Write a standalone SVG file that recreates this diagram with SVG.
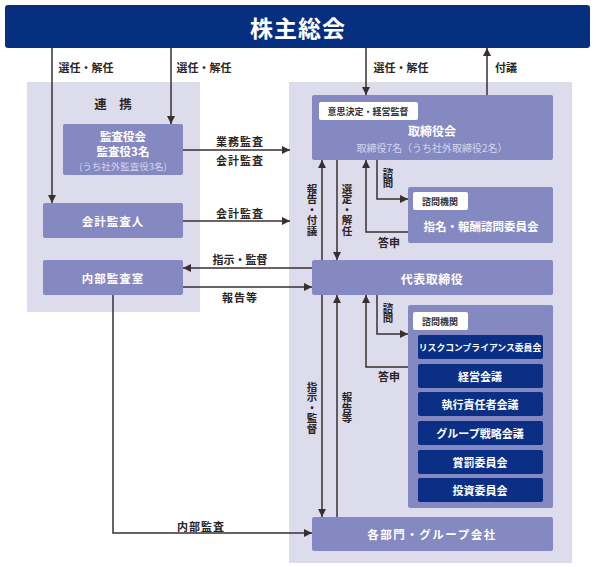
<svg xmlns="http://www.w3.org/2000/svg" width="596" height="567" viewBox="0 0 596 567">
<defs>
<marker id="ah" markerUnits="userSpaceOnUse" markerWidth="8" markerHeight="8" viewBox="0 0 8 8" refX="8" refY="4" orient="auto">
<path d="M0,0 L8,4 L0,8 Z" fill="#3a2f2f"/>
</marker>
<style>
text{font-family:"Noto Sans CJK JP","Noto Sans",sans-serif;}
.panel{fill:#dcdcec;}
.box{fill:#8589c1;}
.dark{fill:#0b2f84;}
.tag{fill:#ffffff;}
.bt{fill:#ffffff;font-size:11.5px;font-weight:bold;text-anchor:middle;dominant-baseline:central;}
.sub{fill:#d4d6ee;font-size:9.5px;text-anchor:middle;dominant-baseline:central;}
.tt{fill:#333333;font-size:9px;font-weight:bold;text-anchor:middle;dominant-baseline:central;}
.lb{fill:#2a2424;font-size:11px;font-weight:bold;text-anchor:middle;dominant-baseline:central;}
.vt{fill:#2a2424;font-size:10.5px;font-weight:bold;text-anchor:middle;writing-mode:vertical-rl;}
.ln{fill:none;stroke:#3a2f2f;stroke-width:1.5;}
</style>
</defs>

<rect class="panel" x="27" y="82" width="173" height="230"/>
<rect class="panel" x="289" y="82" width="283" height="481"/>

<g id="shareholders">
<rect x="5" y="5" width="585" height="43" rx="3" fill="#06307f"/>
<text x="298" y="27" fill="#ffffff" style="font-size:23px;font-weight:bold;letter-spacing:1px" text-anchor="middle" dominant-baseline="central">株主総会</text>
</g>

<g id="renkei">
<text class="lb" x="113" y="103" style="font-size:12.5px">連　携</text>
</g>

<g id="kansayakukai">
<rect class="box" x="63" y="124" width="120" height="51" rx="2"/>
<text class="bt" x="123" y="136">監査役会</text>
<text class="bt" x="123" y="151">監査役3名</text>
<text class="sub" x="123" y="166">(うち社外監査役3名)</text>
</g>

<g id="kaikeikansanin">
<rect class="box" x="43" y="203" width="140" height="35" rx="2"/>
<text class="bt" x="113" y="221" letter-spacing="1">会計監査人</text>
</g>

<g id="naibukansashitsu">
<rect class="box" x="43" y="260" width="140" height="35" rx="2"/>
<text class="bt" x="113" y="278" letter-spacing="1">内部監査室</text>
</g>

<g id="torishimariyakukai">
<rect class="box" x="312" y="95" width="241" height="65" rx="2"/>
<rect class="tag" x="319" y="102" width="99" height="18" rx="2"/>
<text class="tt" x="368" y="111">意思決定・経営監督</text>
<text class="bt" x="432" y="130" style="font-size:12px">取締役会</text>
<text class="sub" x="432" y="147" style="font-size:10px">取締役7名（うち社外取締役2名）</text>
</g>

<g id="shimei">
<rect class="box" x="408" y="187" width="145" height="56" rx="2"/>
<rect class="tag" x="413" y="192" width="55" height="18" rx="2"/>
<text class="tt" x="440" y="201">諮問機関</text>
<text class="bt" x="481" y="226">指名・報酬諮問委員会</text>
</g>

<g id="daihyo">
<rect class="box" x="312" y="260" width="241" height="35" rx="2"/>
<text class="bt" x="432" y="278" style="font-size:12px" letter-spacing="0.5">代表取締役</text>
</g>

<g id="shimonkikan">
<rect class="box" x="408" y="305" width="145" height="203" rx="2"/>
<rect class="tag" x="413" y="312" width="55" height="18" rx="2"/>
<text class="tt" x="440" y="321">諮問機関</text>
</g>
<g id="risk"><rect class="dark" x="418" y="335" width="125" height="24" rx="2"/><text class="bt" x="480" y="347" style="font-size:8.8px">リスクコンプライアンス委員会</text></g>
<g id="keiei"><rect class="dark" x="418" y="364" width="125" height="24" rx="2"/><text class="bt" x="480" y="376" style="font-size:11px">経営会議</text></g>
<g id="shikko"><rect class="dark" x="418" y="392" width="125" height="24" rx="2"/><text class="bt" x="480" y="404" style="font-size:11px">執行責任者会議</text></g>
<g id="group"><rect class="dark" x="418" y="421" width="125" height="24" rx="2"/><text class="bt" x="480" y="433" style="font-size:11px">グループ戦略会議</text></g>
<g id="shobatsu"><rect class="dark" x="418" y="450" width="125" height="24" rx="2"/><text class="bt" x="480" y="462" style="font-size:11px">賞罰委員会</text></g>
<g id="toshi"><rect class="dark" x="418" y="478" width="125" height="24" rx="2"/><text class="bt" x="480" y="490" style="font-size:11px">投資委員会</text></g>

<g id="kakubumon">
<rect class="box" x="312" y="517" width="241" height="34" rx="2"/>
<text class="bt" x="432" y="534" letter-spacing="1.5">各部門・グループ会社</text>
</g>

<g id="connectors">
<path class="ln" d="M52,48 V203" marker-end="url(#ah)"/>
<path class="ln" d="M171,48 V124" marker-end="url(#ah)"/>
<path class="ln" d="M366,48 V95" marker-end="url(#ah)"/>
<path class="ln" d="M487,95 V48" marker-end="url(#ah)"/>
<path class="ln" d="M183,150 H290" marker-end="url(#ah)"/>
<path class="ln" d="M183,221 H290" marker-end="url(#ah)"/>
<path class="ln" d="M312,268 H183" marker-end="url(#ah)"/>
<path class="ln" d="M183,287 H312" marker-end="url(#ah)"/>
<path class="ln" d="M113,295 V533 H312" marker-end="url(#ah)"/>
<path class="ln" d="M322,260 V160" marker-end="url(#ah)"/>
<path class="ln" d="M337,160 V260" marker-end="url(#ah)"/>
<path class="ln" d="M377,160 V199 H408" marker-end="url(#ah)"/>
<path class="ln" d="M408,232 H366 V160" marker-end="url(#ah)"/>
<path class="ln" d="M322,295 V517" marker-end="url(#ah)"/>
<path class="ln" d="M337,517 V295" marker-end="url(#ah)"/>
<path class="ln" d="M377,295 V334 H408" marker-end="url(#ah)"/>
<path class="ln" d="M408,367 H366 V295" marker-end="url(#ah)"/>

<text class="lb" x="86" y="67">選任・解任</text>
<text class="lb" x="204" y="67">選任・解任</text>
<text class="lb" x="401" y="67">選任・解任</text>
<text class="lb" x="506" y="67">付議</text>
<text class="lb" x="240" y="141" letter-spacing="1">業務監査</text>
<text class="lb" x="240" y="160" letter-spacing="1">会計監査</text>
<text class="lb" x="240" y="213" letter-spacing="1">会計監査</text>
<text class="lb" x="240" y="259">指示・監督</text>
<text class="lb" x="240" y="297" letter-spacing="1">報告等</text>
<text class="lb" x="201" y="526" letter-spacing="1">内部監査</text>
<text class="vt" x="312" y="210">報告・付議</text>
<text class="vt" x="347" y="210">選定・解任</text>
<text class="vt" x="388" y="178">諮問</text>
<text class="lb" x="389" y="242">答申</text>
<text class="vt" x="388" y="313">諮問</text>
<text class="lb" x="389" y="376">答申</text>
<text class="vt" x="312" y="408">指示・監督</text>
<text class="vt" x="347" y="408">報告等</text>
</g>
</svg>
